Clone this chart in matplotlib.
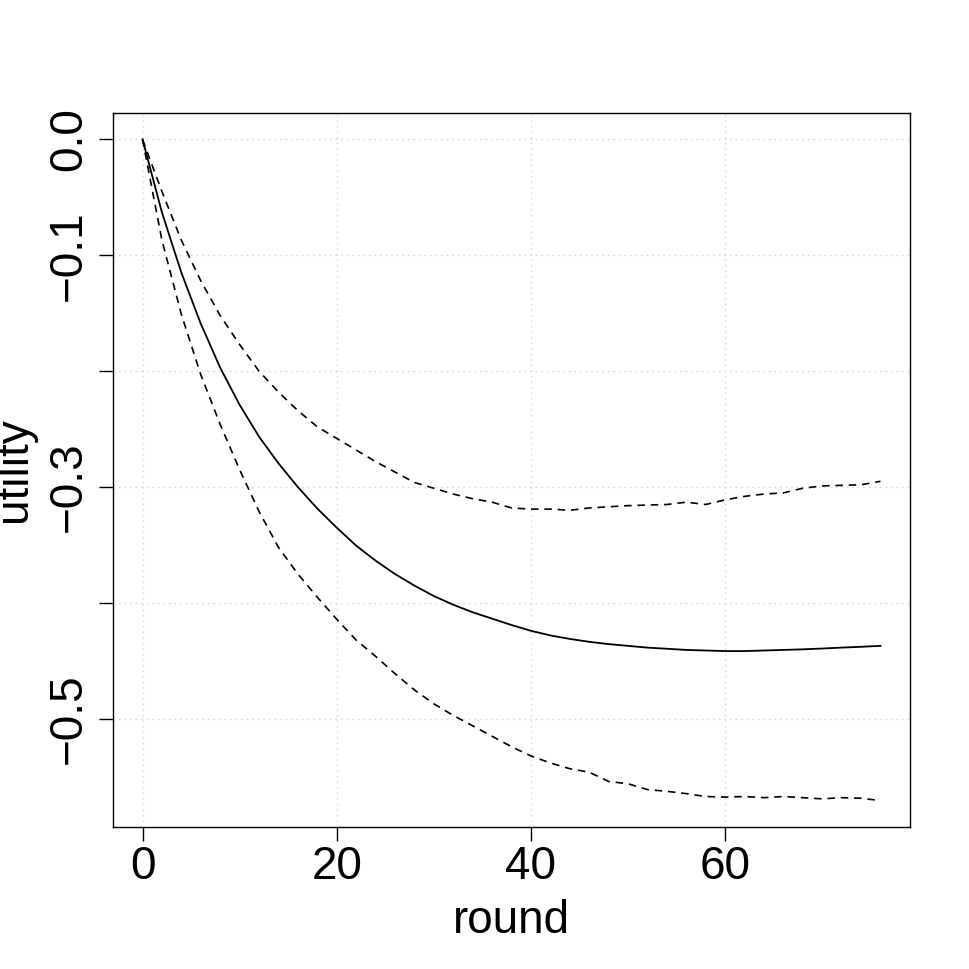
import numpy as np
import matplotlib
matplotlib.use('Agg')
import matplotlib.pyplot as plt
from matplotlib.transforms import blended_transform_factory

plt.rcParams['font.family'] = ['Liberation Sans', 'DejaVu Sans']

rounds = np.arange(0, 77, 2)

utility_mean = [0.0, -0.063, -0.115, -0.159, -0.197, -0.229, -0.2565, -0.2795, -0.300, -0.3185,
                -0.335, -0.3505, -0.3635, -0.375, -0.385, -0.394, -0.4015, -0.408, -0.4135, -0.419,
                -0.424, -0.428, -0.431, -0.4335, -0.4355, -0.437, -0.4385, -0.4395, -0.4405, -0.441,
                -0.4415, -0.4415, -0.441, -0.4405, -0.440, -0.4393, -0.4385, -0.4378, -0.437]

utility_upper = [0.0, -0.045, -0.087, -0.122, -0.152, -0.177, -0.200, -0.218, -0.234, -0.248,
                 -0.258, -0.268, -0.278, -0.287, -0.296, -0.301, -0.306, -0.310, -0.313, -0.318,
                 -0.319, -0.319, -0.320, -0.318, -0.317, -0.316, -0.3155, -0.315, -0.313, -0.315,
                 -0.311, -0.308, -0.306, -0.305, -0.301, -0.299, -0.2985, -0.298, -0.295]

utility_lower = [0.0, -0.087, -0.151, -0.203, -0.246, -0.285, -0.321, -0.352, -0.375, -0.395,
                 -0.414, -0.432, -0.446, -0.461, -0.475, -0.487, -0.497, -0.506, -0.515, -0.524,
                 -0.532, -0.538, -0.543, -0.546, -0.554, -0.556, -0.561, -0.5625, -0.5645, -0.567,
                 -0.5675, -0.567, -0.568, -0.567, -0.568, -0.569, -0.568, -0.5685, -0.5705]

x_ticks = [0, 20, 40, 60]
y_ticks = [0.0, -0.1, -0.2, -0.3, -0.4, -0.5]
y_ticklabels = ['0.0', '\u22120.1', '', '\u22120.3', '', '\u22120.5']

W = 969.0
fig = plt.figure(figsize=(9.69, 9.69), dpi=100)
ax = fig.add_axes([113 / W, 1 - 827 / W, (910 - 113) / W, (827 - 113) / W])

ax.plot(rounds, utility_mean, color='black', lw=1.3, zorder=3)
ax.plot(rounds, utility_upper, color='black', lw=1.2, linestyle=(0, (4.5, 3.5)), zorder=3)
ax.plot(rounds, utility_lower, color='black', lw=1.2, linestyle=(0, (4.5, 3.5)), zorder=3)

ax.set_xlim(-3.04, 79.04)
ax.set_ylim(-0.5933, 0.0228)

ax.set_xticks(x_ticks)
ax.set_yticks(y_ticks)
ax.grid(True, color='lightgray', linestyle=(0, (1, 3)), linewidth=1.0, zorder=0)
ax.tick_params(direction='out', length=10, width=1.0, color='black',
               labelbottom=False, labelleft=False)
for s in ax.spines.values():
    s.set_linewidth(1.0)

# tick labels placed like R's axis()
tb = blended_transform_factory(ax.transData, fig.transFigure)
for t in x_ticks:
    ax.text(t, 1 - 879 / W, str(t), transform=tb, ha='center', va='baseline',
            fontsize=33, clip_on=False)

tl = blended_transform_factory(fig.transFigure, ax.transData)
for t, lab in zip(y_ticks, y_ticklabels):
    if lab:
        ax.text(81 / W, t, lab, transform=tl, rotation=90, rotation_mode='anchor',
                ha='center', va='baseline', fontsize=33, clip_on=False)

fig.text(511.5 / W, 1 - 933 / W, 'round', ha='center', va='baseline', fontsize=33)
# ylab sits partly off the left edge, as in the original
fig.text(26 / W, 1 - 470 / W, 'utility', rotation=90, rotation_mode='anchor',
         ha='center', va='baseline', fontsize=33)

fig.savefig('out.png', dpi=100, facecolor='white')
